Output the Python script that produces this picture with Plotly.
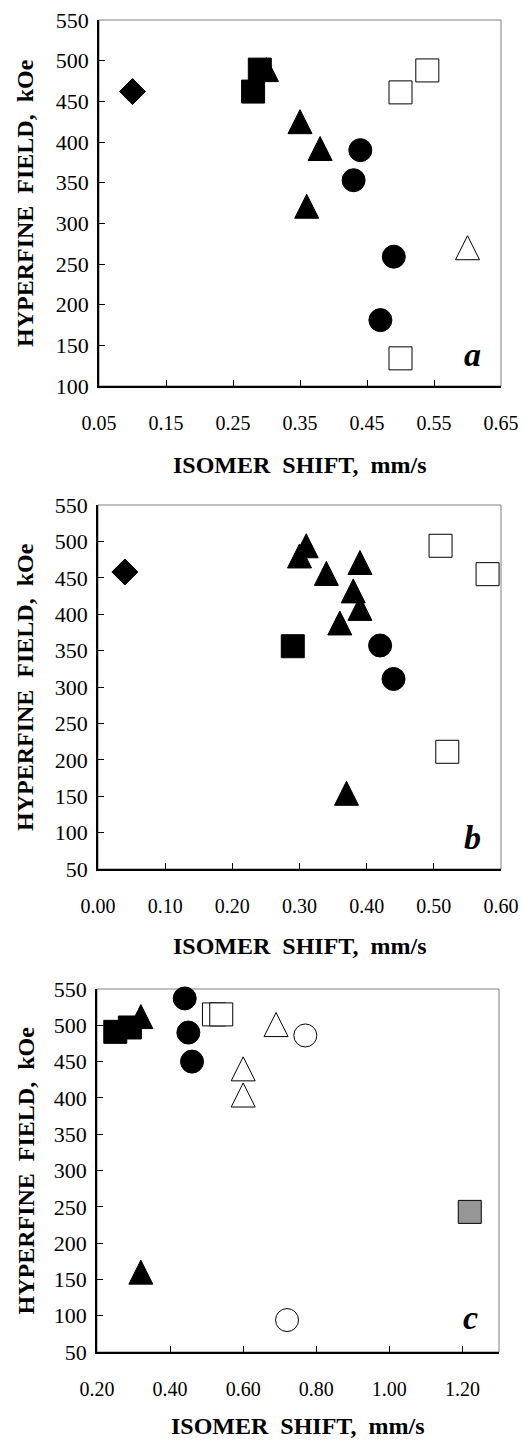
import plotly.graph_objects as go

# ---------------- data ----------------
# Panel a
a_diamond_x = [0.10]; a_diamond_y = [462]
a_fsq_x = [0.29, 0.28]; a_fsq_y = [489, 462]
a_ftri_x = [0.30, 0.35, 0.38, 0.36]; a_ftri_y = [489, 425, 392, 321]
a_fcir_x = [0.44, 0.43, 0.49, 0.47]; a_fcir_y = [390, 353, 259, 181]
a_osq_x = [0.50, 0.54, 0.50]; a_osq_y = [461, 488, 134]
a_otri_x = [0.60]; a_otri_y = [270]

# Panel b
b_diamond_x = [0.04]; b_diamond_y = [458]
b_fsq_x = [0.29]; b_fsq_y = [356]
b_ftri_x = [0.31, 0.30, 0.34, 0.39, 0.38, 0.39, 0.36, 0.37]
b_ftri_y = [494, 480, 456, 471, 432, 408, 388, 154]
b_fcir_x = [0.42, 0.44]; b_fcir_y = [357, 311]
b_osq_x = [0.51, 0.58, 0.52]; b_osq_y = [494, 455, 211]

# Panel c
c_fsq_x = [0.25, 0.29]; c_fsq_y = [491, 497]
c_ftri_x = [0.32, 0.32]; c_ftri_y = [512, 160]
c_fcir_x = [0.44, 0.45, 0.46]; c_fcir_y = [537, 490, 450]
c_osq_x = [0.52, 0.54]; c_osq_y = [515, 515]
c_otri_x = [0.69, 0.60, 0.60]; c_otri_y = [501, 440, 404]
c_ocir_x = [0.77, 0.72]; c_ocir_y = [486, 94]
c_gsq_x = [1.22]; c_gsq_y = [243]

a_xticks = [0.05, 0.15, 0.25, 0.35, 0.45, 0.55, 0.65]
b_xticks = [0.00, 0.10, 0.20, 0.30, 0.40, 0.50, 0.60]
c_xticks = [0.20, 0.40, 0.60, 0.80, 1.00, 1.20]
a_yticks = list(range(100, 551, 50))
b_yticks = list(range(50, 551, 50))
c_yticks = list(range(50, 551, 50))

X_TITLE = "ISOMER\u00a0 SHIFT,\u00a0 mm/s"
Y_TITLE = "HYPERFINE\u00a0 FIELD,\u00a0 kOe"
PANEL_LABELS = ["a", "b", "c"]

# ---------------- styles ----------------
W, H = 523, 1441
SERIF = "Liberation Serif, Times New Roman, serif"

SZ_SQ = 23
SZ_CIR = 23
SZ_TRI = 24
SZ_DIA = 20

def sq(fill):
    return dict(symbol="square", size=SZ_SQ, color=fill, line=dict(color="black", width=1))

def cir(fill):
    return dict(symbol="circle", size=SZ_CIR, color=fill, line=dict(color="black", width=1))

def tri(fill):
    # taller (equilateral-like) triangle centred on the point
    return dict(symbol="arrow-down", angle=180, standoff=SZ_TRI / 2, size=SZ_TRI,
                color=fill, line=dict(color="black", width=1))

def dia(fill):
    return dict(symbol="diamond", size=SZ_DIA, color=fill, line=dict(color="black", width=1))

fig = go.Figure()

def add(x, y, marker, n):
    xa = "x" if n == 1 else f"x{n}"
    ya = "y" if n == 1 else f"y{n}"
    fig.add_trace(go.Scatter(x=x, y=y, mode="markers", marker=marker,
                             xaxis=xa, yaxis=ya, showlegend=False, cliponaxis=False,
                             hoverinfo="x+y"))

# panel a
add(a_diamond_x, a_diamond_y, dia("black"), 1)
add(a_fsq_x, a_fsq_y, sq("black"), 1)
add(a_ftri_x, a_ftri_y, tri("black"), 1)
add(a_fcir_x, a_fcir_y, cir("black"), 1)
add(a_osq_x, a_osq_y, sq("white"), 1)
add(a_otri_x, a_otri_y, tri("white"), 1)
# panel b
add(b_diamond_x, b_diamond_y, dia("black"), 2)
add(b_fsq_x, b_fsq_y, sq("black"), 2)
add(b_ftri_x, b_ftri_y, tri("black"), 2)
add(b_fcir_x, b_fcir_y, cir("black"), 2)
add(b_osq_x, b_osq_y, sq("white"), 2)
# panel c
add(c_fsq_x, c_fsq_y, sq("black"), 3)
add(c_ftri_x, c_ftri_y, tri("black"), 3)
add(c_fcir_x, c_fcir_y, cir("black"), 3)
add(c_osq_x, c_osq_y, sq("white"), 3)
add(c_otri_x, c_otri_y, tri("white"), 3)
add(c_ocir_x, c_ocir_y, cir("white"), 3)
add(c_gsq_x, c_gsq_y, sq("#969696"), 3)

# pixel boxes of the three plot areas (left, right, top, bottom)
boxes = [
    (99, 501, 20, 386),
    (98, 501, 505, 869),
    (97, 499, 989, 1352),
]
xtitle_gap = [79, 77, 74]
letter_pos = [(472, 354), (472, 837), (471, 1317)]
xranges = [[0.05, 0.65], [0.0, 0.6], [0.2, 1.3]]
yranges = [[100, 550], [50, 550], [50, 550]]
xticks = [a_xticks, b_xticks, c_xticks]
yticks = [a_yticks, b_yticks, c_yticks]

layout = dict(
    width=W, height=H,
    margin=dict(l=0, r=0, t=0, b=0, pad=0, autoexpand=False),
    paper_bgcolor="white", plot_bgcolor="white",
    showlegend=False,
    font=dict(family=SERIF, color="black"),
)
annotations = []
shapes = []
for i in range(3):
    n = i + 1
    l, r, t, b = boxes[i]
    xk = "xaxis" if n == 1 else f"xaxis{n}"
    yk = "yaxis" if n == 1 else f"yaxis{n}"
    xa_ref = "x" if n == 1 else f"x{n}"
    ya_ref = "y" if n == 1 else f"y{n}"
    layout[xk] = dict(
        domain=[l / W, r / W], range=xranges[i], anchor=ya_ref, automargin=False,
        tickmode="array", tickvals=xticks[i], ticktext=[f"{v:.2f}" for v in xticks[i]],
        ticks="inside", ticklen=6, tickwidth=1, tickcolor="black",
        showline=True, linecolor="black", linewidth=1.5,
        showgrid=False, zeroline=False,
        tickfont=dict(family=SERIF, size=20, color="black"),
        ticklabelstandoff=18,
    )
    layout[yk] = dict(
        domain=[1 - b / H, 1 - t / H], range=yranges[i], anchor=xa_ref, automargin=False,
        tickmode="array", tickvals=yticks[i], ticktext=[str(v) for v in yticks[i]],
        ticks="inside", ticklen=6, tickwidth=1, tickcolor="black",
        showline=True, linecolor="black", linewidth=1.5,
        showgrid=False, zeroline=False,
        tickfont=dict(family=SERIF, size=22, color="black"),
        ticklabelstandoff=4,
    )
    shapes.append(dict(type="rect", xref=f"{xa_ref} domain", yref=f"{ya_ref} domain",
                       x0=0, x1=1, y0=0, y1=1, line=dict(color="#7f7f7f", width=1),
                       layer="below"))
    annotations.append(dict(text=X_TITLE, xref=f"{xa_ref} domain", x=0.5,
                            yref="paper", y=1 - (b + xtitle_gap[i]) / H, yanchor="middle",
                            xanchor="center", showarrow=False,
                            font=dict(family=SERIF, size=24, color="black", weight="bold")))
    annotations.append(dict(text=Y_TITLE, xref="paper", x=25 / W, xanchor="center",
                            yref=f"{ya_ref} domain", y=0.5, yanchor="middle",
                            textangle=-90, showarrow=False,
                            font=dict(family=SERIF, size=24, color="black", weight="bold")))
    lx, ly = letter_pos[i]
    annotations.append(dict(text=f"<i>{PANEL_LABELS[i]}</i>", xref=f"{xa_ref} domain",
                            x=(lx - l) / (r - l), yref=f"{ya_ref} domain",
                            y=(b - ly) / (b - t),
                            xanchor="center", yanchor="middle", showarrow=False,
                            font=dict(family=SERIF, size=34, color="black", weight="bold")))

layout["annotations"] = annotations
layout["shapes"] = shapes
fig.update_layout(**layout)
fig.write_html(
    "out.html",
    config={"displayModeBar": False},
    post_script="document.documentElement.style.margin='0';"
                "document.body.style.margin='0';document.body.style.padding='0';"
                "document.body.style.overflow='hidden';",
)
